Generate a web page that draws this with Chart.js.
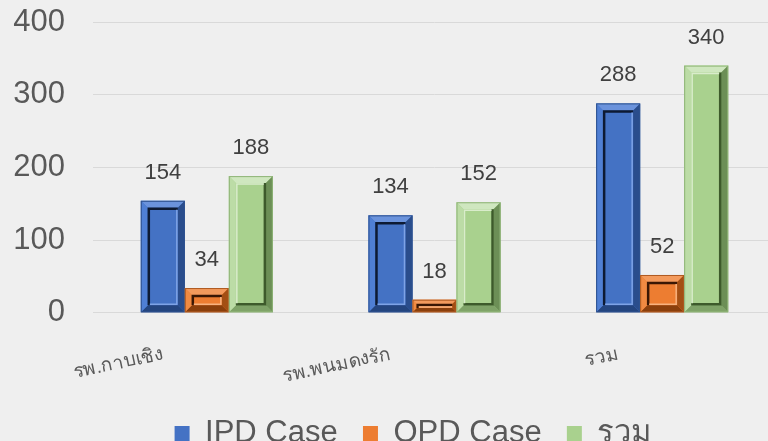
<!DOCTYPE html>
<html>
<head>
<meta charset="utf-8">
<script src="https://cdn.jsdelivr.net/npm/chart.js@4/dist/chart.umd.min.js"></script>
<style>
  html, body { margin: 0; padding: 0; overflow: hidden; background: #efefef; }
  #wrap { width: 776px; height: 459px; position: relative; }
</style>
</head>
<body>
<div id="wrap"><canvas id="myChart"></canvas></div>
<script>
// chart data
const categories = ['รพ.กาบเชิง', 'รพ.พนมดงรัก', 'รวม'];
const ipdCase = [154, 134, 288];
const opdCase = [34, 18, 52];
const totalCase = [188, 152, 340];
const yTicks = [0, 100, 200, 300, 400];

const FONT = "'Liberation Sans', Arial, 'Noto Sans', sans-serif";

// bevel look, one per dataset
const bevels = [
  { top: '#6b93dc', left: '#4f7fd4', right: '#2a4d8c', bottom: '#24457f', edge: '#2f528f', shadow: '#0d1a33', light: '#7ea3e6', side: 'left' },
  { top: '#f39a5c', left: '#f08a42', right: '#a34f14', bottom: '#8a3f0c', edge: '#ae5a21', shadow: '#3a1704', light: '#f7b27f', side: 'left' },
  { top: '#cfe7bf', left: '#bcdca6', right: '#6c8f56', bottom: '#7fa368', edge: '#8fb477', shadow: '#3d5a2b', light: '#d9eccb', side: 'right' }
];

const bevelPlugin = {
  id: 'bevel',
  afterDatasetsDraw(chart) {
    const c = chart.ctx;
    chart.data.datasets.forEach((ds, di) => {
      const meta = chart.getDatasetMeta(di);
      const bv = bevels[di];
      meta.data.forEach((el) => {
        const l = el.x - el.width / 2, r = el.x + el.width / 2;
        const t = el.y, b = el.base;
        const w = r - l, h = b - t;
        const k = Math.min(7, w / 4, h / 3);
        c.save();
        c.fillStyle = bv.top;
        c.beginPath(); c.moveTo(l, t); c.lineTo(r, t); c.lineTo(r - k, t + k); c.lineTo(l + k, t + k); c.closePath(); c.fill();
        c.fillStyle = bv.bottom;
        c.beginPath(); c.moveTo(l, b); c.lineTo(r, b); c.lineTo(r - k, b - k); c.lineTo(l + k, b - k); c.closePath(); c.fill();
        c.fillStyle = bv.left;
        c.beginPath(); c.moveTo(l, t); c.lineTo(l + k, t + k); c.lineTo(l + k, b - k); c.lineTo(l, b); c.closePath(); c.fill();
        c.fillStyle = bv.right;
        c.beginPath(); c.moveTo(r, t); c.lineTo(r - k, t + k); c.lineTo(r - k, b - k); c.lineTo(r, b); c.closePath(); c.fill();
        // inner panel edges
        const il = l + k, ir = r - k, it = t + k, ib = b - k;
        if (ib - it > 2) {
          c.lineWidth = 2.5;
          c.strokeStyle = bv.shadow;
          c.beginPath();
          if (bv.side === 'left') { c.moveTo(il + 1, ib); c.lineTo(il + 1, it + 1); c.lineTo(ir, it + 1); }
          else { c.moveTo(ir - 1, it); c.lineTo(ir - 1, ib - 1); c.lineTo(il, ib - 1); }
          c.stroke();
          c.strokeStyle = bv.light;
          c.lineWidth = 1.5;
          c.beginPath();
          if (bv.side === 'left') { c.moveTo(ir - 1, it + 2); c.lineTo(ir - 1, ib - 1); c.lineTo(il + 2, ib - 1); }
          else { c.moveTo(il + 1, ib - 2); c.lineTo(il + 1, it + 1); c.lineTo(ir - 2, it + 1); }
          c.stroke();
        }
        c.strokeStyle = bv.edge;
        c.lineWidth = 1;
        c.strokeRect(l + 0.5, t + 0.5, w - 1, h - 1);
        c.restore();
      });
    });
  }
};

// value labels above the bars
const valuePlugin = {
  id: 'values',
  afterDatasetsDraw(chart) {
    const c = chart.ctx;
    c.save();
    c.font = '22px ' + FONT;
    c.fillStyle = '#404040';
    c.textAlign = 'center';
    c.textBaseline = 'bottom';
    chart.data.datasets.forEach((ds, di) => {
      chart.getDatasetMeta(di).data.forEach((el, i) => {
        c.fillText(ds.data[i], el.x, el.y - 17);
      });
    });
    c.restore();
  }
};

const ctx = document.getElementById('myChart');

var chart = new Chart(ctx, {
  type: 'bar',
  data: {
    labels: categories,
    datasets: [
      { label: 'IPD Case', data: ipdCase, backgroundColor: '#4472c4' },
      { label: 'OPD Case', data: opdCase, backgroundColor: '#ed7d31' },
      { label: 'รวม', data: totalCase, backgroundColor: '#a9d18e' }
    ]
  },
  options: {
    responsive: true,
    maintainAspectRatio: false,
    animation: false,
    layout: { padding: { top: 22, left: 0, right: 0, bottom: 0 } },
    datasets: { bar: { barPercentage: 1, categoryPercentage: 0.58 } },
    scales: {
      x: {
        grid: { display: false },
        border: { display: false },
        afterFit(axis) { axis.paddingLeft = 0; axis.paddingRight = 0; },
        ticks: {
          color: '#595959',
          font: { family: FONT, size: 19 },
          minRotation: 12, maxRotation: 12,
          padding: 22,
          labelOffset: -44
        }
      },
      y: {
        min: 0, max: 400,
        afterBuildTicks(axis) { axis.ticks = yTicks.map(v => ({ value: v })); },
        afterFit(axis) { axis.width = 93; axis.paddingTop = 0; axis.paddingBottom = 0; },
        grid: { color: '#d9d9d9', drawTicks: false },
        border: { display: false },
        ticks: {
          color: '#595959',
          font: { family: FONT, size: 31 },
          padding: 28
        }
      }
    },
    plugins: {
      tooltip: { enabled: false },
      legend: {
        position: 'bottom',
        fullSize: false,
        labels: {
          color: '#595959',
          font: { family: FONT, size: 31 },
          boxWidth: 15, boxHeight: 15,
          padding: 8,
          generateLabels(chart) {
            const items = Chart.defaults.plugins.legend.labels.generateLabels(chart);
            // extra gap between legend entries, and pull the row a bit left
            items.forEach((it, i) => { it.text = it.text + (i < items.length - 1 ? '  ' : '     '); });
            return items;
          }
        }
      }
    }
  },
  plugins: [bevelPlugin, valuePlugin]
});
</script>
</body>
</html>
